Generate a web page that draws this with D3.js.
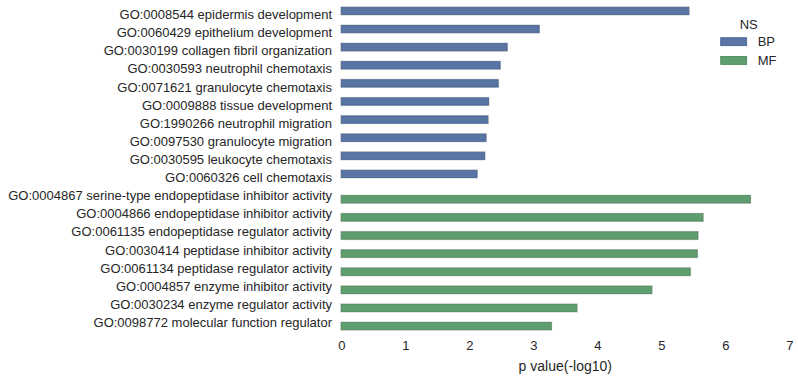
<!DOCTYPE html>
<html>
<head>
<meta charset="utf-8">
<script src="https://cdn.jsdelivr.net/npm/d3@7"></script>
<style>
  body { margin: 0; background: #fff; }
  text { font-family: "Liberation Sans", Arial, sans-serif; fill: #262626; }
</style>
</head>
<body>
<div class="container"></div>
<script>
// GO terms and their -log10 p values, per namespace
const bpTerms = [
  "GO:0008544 epidermis development",
  "GO:0060429 epithelium development",
  "GO:0030199 collagen fibril organization",
  "GO:0030593 neutrophil chemotaxis",
  "GO:0071621 granulocyte chemotaxis",
  "GO:0009888 tissue development",
  "GO:1990266 neutrophil migration",
  "GO:0097530 granulocyte migration",
  "GO:0030595 leukocyte chemotaxis",
  "GO:0060326 cell chemotaxis"
];
const bpValues = [5.43, 3.09, 2.59, 2.48, 2.45, 2.30, 2.29, 2.26, 2.24, 2.12];

const mfTerms = [
  "GO:0004867 serine-type endopeptidase inhibitor activity",
  "GO:0004866 endopeptidase inhibitor activity",
  "GO:0061135 endopeptidase regulator activity",
  "GO:0030414 peptidase inhibitor activity",
  "GO:0061134 peptidase regulator activity",
  "GO:0004857 enzyme inhibitor activity",
  "GO:0030234 enzyme regulator activity",
  "GO:0098772 molecular function regulator"
];
const mfValues = [6.39, 5.65, 5.57, 5.56, 5.45, 4.85, 3.68, 3.28];

const namespaces = ["BP", "MF"];
const xTicks = [0, 1, 2, 3, 4, 5, 6, 7];

const width = 798;
const height = 379;

// seaborn deep palette, desaturated like barplot does
const fill = { BP: "#5875a4", MF: "#5f9e6e" };
const edge = { BP: "#43618f", MF: "#4a8459" };

const rows = bpTerms.map((t, i) => ({ term: t, ns: "BP", value: bpValues[i] }))
  .concat(mfTerms.map((t, i) => ({ term: t, ns: "MF", value: mfValues[i] })));

const x = d3.scaleLinear().domain([0, 7]).range([341.3, 789.3]);

const y = d3.scaleBand()
    .domain(rows.map(d => d.term))
    .range([5.5, 331.5])
    .padding(0);

// hue dodge inside each category (seaborn uses 0.8 of the slot)
const hue = d3.scaleBand()
    .domain(namespaces)
    .range([y.bandwidth() * 0.1, y.bandwidth() * 0.9]);

const svg = d3.select(".container").append("svg")
    .attr("width", width)
    .attr("height", height);

// light halo under each bar
svg.append("g")
  .selectAll("rect")
  .data(rows)
  .enter().append("rect")
    .attr("x", x(0) - 0.5)
    .attr("y", d => y(d.term) + hue(d.ns) - 0.5)
    .attr("width", d => x(d.value) - x(0) + 1)
    .attr("height", hue.bandwidth() + 1)
    .attr("fill", "none")
    .attr("stroke", "#d0d0d0")
    .attr("stroke-width", 1);

svg.append("g")
  .selectAll("rect")
  .data(rows)
  .enter().append("rect")
    .attr("x", x(0))
    .attr("y", d => y(d.term) + hue(d.ns))
    .attr("width", d => x(d.value) - x(0))
    .attr("height", hue.bandwidth())
    .attr("fill", d => fill[d.ns])
    .attr("stroke", d => edge[d.ns])
    .attr("stroke-width", 0.8);

// y labels
svg.append("g")
  .selectAll("text")
  .data(rows)
  .enter().append("text")
    .attr("x", 332)
    .attr("y", d => y(d.term) + y.bandwidth() / 2)
    .attr("dy", "0.35em")
    .attr("text-anchor", "end")
    .attr("font-size", 13)
    .text(d => d.term);

// x axis, no line, no ticks
const xAxis = svg.append("g")
    .attr("transform", "translate(0,331.5)")
    .call(d3.axisBottom(x).tickValues(xTicks).tickFormat(d3.format("d")).tickSize(0).tickPadding(9));
xAxis.select(".domain").remove();
xAxis.attr("font-size", 13).attr("font-family", null);
xAxis.selectAll("text")
    .attr("fill", "#262626");

svg.append("text")
    .attr("x", x(3.5))
    .attr("y", 366)
    .attr("dy", "0.35em")
    .attr("text-anchor", "middle")
    .attr("font-size", 14)
    .text("p value(-log10)");

// legend
const legend = svg.append("g").attr("transform", "translate(720.7,0)");
legend.append("text")
    .attr("x", 28)
    .attr("y", 24)
    .attr("dy", "0.35em")
    .attr("text-anchor", "middle")
    .attr("font-size", 13)
    .text("NS");

const item = legend.selectAll("g.item")
  .data(namespaces)
  .enter().append("g")
    .attr("class", "item")
    .attr("transform", (d, i) => `translate(0,${41.7 + i * 18.7})`);
item.append("rect")
    .attr("x", 0)
    .attr("y", -4)
    .attr("width", 26)
    .attr("height", 8)
    .attr("fill", d => fill[d])
    .attr("stroke", d => edge[d])
    .attr("stroke-width", 0.8);
item.append("text")
    .attr("x", 37)
    .attr("y", 0)
    .attr("dy", "0.35em")
    .attr("font-size", 13)
    .text(d => d);
</script>
</body>
</html>
